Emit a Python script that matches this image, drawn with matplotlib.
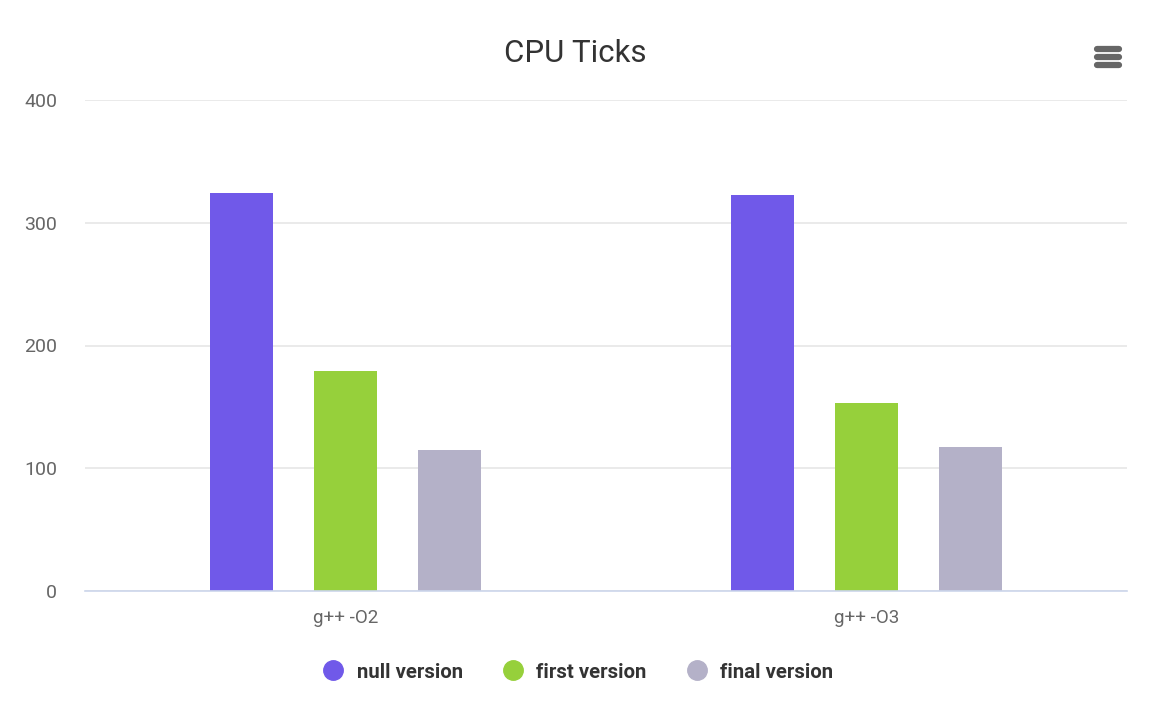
import matplotlib
matplotlib.use("Agg")
import matplotlib.pyplot as plt
from matplotlib.lines import Line2D
import numpy as np

categories = ["g++ -O2", "g++ -O3"]
series_names = ["null version", "first version", "final version"]
null_version = [324, 323]
first_version = [179, 153]
final_version = [115, 117]
colors = ["#7059e9", "#96d03b", "#b4b1c8"]
yticks = [0, 100, 200, 300, 400]

plt.rcParams['font.family'] = ['Roboto', 'DejaVu Sans']

W, H = 1173, 713
fig = plt.figure(figsize=(W / 100, H / 100), dpi=100)
ax = fig.add_axes([85 / W, 122 / H, 1042 / W, 491 / H])

x = np.arange(len(categories))
width = 0.121
offsets = [-0.2, 0.0, 0.2]
for vals, off, col in zip([null_version, first_version, final_version], offsets, colors):
    ax.bar(x + off, vals, width=width, color=col, zorder=3, linewidth=0)

ax.set_xlim(-0.5, 1.5)
ax.set_ylim(0, 400)
ax.set_yticks(yticks)
ax.set_yticklabels([str(t) for t in yticks])
ax.set_xticks(x)
ax.set_xticklabels(categories)
ax.grid(axis='y', color='#e6e6e6', linewidth=1.2, zorder=0)
for s in ['top', 'right', 'left']:
    ax.spines[s].set_visible(False)
ax.spines['bottom'].set_color('#ccd6eb')
ax.spines['bottom'].set_linewidth(1.2)
ax.spines['bottom'].set_zorder(4)
ax.tick_params(axis='y', length=0, pad=20, labelsize=14, labelcolor='#666666')
ax.tick_params(axis='x', length=0, pad=13, labelsize=13.5, labelcolor='#666666')

fig.text(575 / W, 1 - 53 / H, "CPU Ticks", ha='center', va='center',
         fontsize=22.5, color='#333333')

handles = [Line2D([0], [0], marker='o', linestyle='none', markersize=14,
                  markerfacecolor=c, markeredgecolor=c) for c in colors]
leg = fig.legend(handles, series_names, loc='center', bbox_to_anchor=(573 / W, 1 - 672 / H),
                 ncol=3, frameon=False, handletextpad=0.15, columnspacing=1.45,
                 prop={'weight': 'bold', 'size': 14.7})
for t in leg.get_texts():
    t.set_color('#333333')

# menu icon
for yy in [49, 57, 65]:
    fig.add_artist(Line2D([1097 / W, 1119 / W], [1 - yy / H, 1 - yy / H],
                          color='#666666', linewidth=4.5, solid_capstyle='round'))

fig.savefig("out.png", dpi=100)
